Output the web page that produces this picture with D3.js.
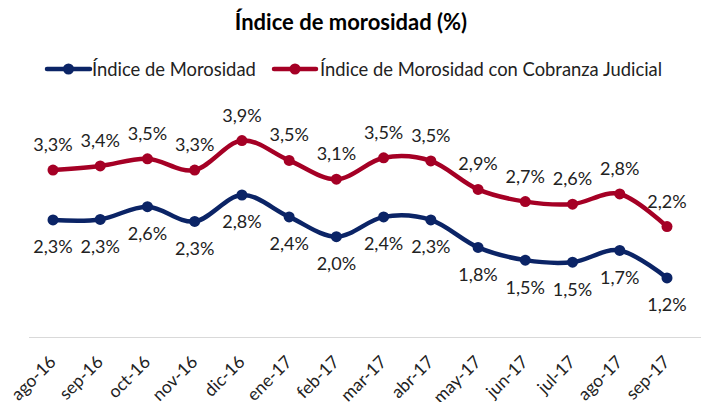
<!DOCTYPE html>
<html><head><meta charset="utf-8">
<script src="https://cdn.jsdelivr.net/npm/d3@7"></script>
<style>html,body{margin:0;padding:0;background:#fff;}svg{display:block;font-family:Lato,"Open Sans",sans-serif;}</style>
</head><body>
<script>
const categories = ["ago-16","sep-16","oct-16","nov-16","dic-16","ene-17","feb-17","mar-17","abr-17","may-17","jun-17","jul-17","ago-17","sep-17"];
const morosidad = [2.30,2.31,2.56,2.27,2.79,2.36,1.97,2.36,2.30,1.76,1.51,1.47,1.70,1.16];
const morosidadJudicial = [3.28,3.36,3.50,3.28,3.86,3.47,3.10,3.52,3.46,2.90,2.66,2.61,2.81,2.17];
const seriesNames = ["Índice de Morosidad","Índice de Morosidad con Cobranza Judicial"];
const title = "Índice de morosidad (%)";

const W = 701, H = 402;
const svg = d3.select("body").append("svg").attr("width", W).attr("height", H);

const x = d3.scalePoint().domain(categories).range([53, 667]);
const y = d3.scaleLinear().domain([0, 5]).range([337, 82.5]);

const blue = "#0B2466", red = "#A50025";
const fmt = v => d3.format(".1f")(v).replace(".", ",") + "%";

// title
svg.append("text").attr("x", 351).attr("y", 30).attr("text-anchor", "middle")
  .attr("font-size", 22).attr("font-weight", "bold").attr("fill", "#000").text(title);

// legend
const legend = [
  {name: seriesNames[0], color: blue, x0: 47, x1: 90, tx: 92},
  {name: seriesNames[1], color: red, x0: 274, x1: 316, tx: 320}
];
legend.forEach(l => {
  svg.append("line").attr("x1", l.x0).attr("x2", l.x1).attr("y1", 69).attr("y2", 69)
    .attr("stroke", l.color).attr("stroke-width", 4.5).attr("stroke-linecap", "round");
  svg.append("circle").attr("cx", (l.x0 + l.x1) / 2).attr("cy", 69).attr("r", 5.5).attr("fill", l.color);
  svg.append("text").attr("x", l.tx).attr("y", 75.5).attr("font-size", 18.4).attr("fill", "#222").text(l.name);
});

// axis line
svg.append("line").attr("x1", 29).attr("x2", 701).attr("y1", 337.5).attr("y2", 337.5)
  .attr("stroke", "#D9D9D9").attr("stroke-width", 1);

// x labels
svg.append("g").selectAll("text").data(categories).join("text")
  .attr("transform", d => `translate(${x(d) + 4},363) rotate(-45)`)
  .attr("text-anchor", "end").attr("font-size", 17.5).attr("fill", "#222").text(d => d);

const line = d3.line().x((d, i) => x(categories[i])).y(d => y(d)).curve(d3.curveCardinal.tension(0));

const series = [
  {vals: morosidadJudicial, color: red, dy: -19},
  {vals: morosidad, color: blue, dy: 33.5}
];
series.forEach(s => {
  svg.append("path").attr("d", line(s.vals)).attr("fill", "none")
    .attr("stroke", s.color).attr("stroke-width", 4.5).attr("stroke-linejoin", "round").attr("stroke-linecap", "round");
  svg.append("g").selectAll("circle").data(s.vals).join("circle")
    .attr("cx", (d, i) => x(categories[i])).attr("cy", d => y(d)).attr("r", 5.5).attr("fill", s.color);
  svg.append("g").selectAll("text").data(s.vals).join("text")
    .attr("x", (d, i) => x(categories[i])).attr("y", d => y(d) + s.dy)
    .attr("text-anchor", "middle").attr("font-size", 18).attr("fill", "#222").text(d => fmt(d));
});
</script>
</body></html>
